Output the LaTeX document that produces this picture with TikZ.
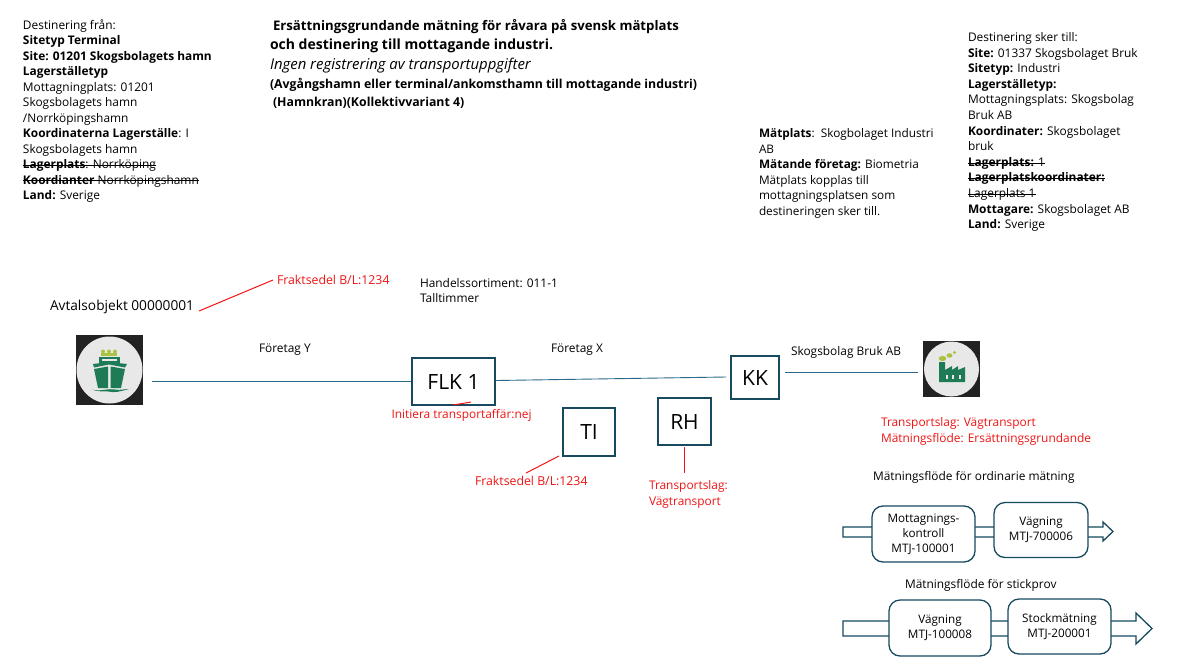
\documentclass[tikz,border=0pt]{standalone}
\usepackage{fontspec}
\setmainfont{Open Sans}
\usetikzlibrary{positioning,calc}
\definecolor{teal1}{HTML}{2A6A88}
\definecolor{boxc}{HTML}{17495F}
\definecolor{redt}{HTML}{F01414}
\definecolor{shipg}{HTML}{1E7B55}
\definecolor{limeg}{HTML}{A9C23F}
\definecolor{icbg}{HTML}{222222}
\definecolor{iccirc}{HTML}{E8E8E8}
\newsavebox{\strkbox}
\newcommand{\strk}[1]{\sbox{\strkbox}{#1}\leavevmode\rlap{\usebox{\strkbox}}\rule[0.27em]{\wd\strkbox}{0.55pt}}
\tikzset{
  x=1pt,y=-1pt,
  txt/.style={anchor=north west,inner sep=0pt,outer sep=0pt,align=left,font=\fontsize{11.9}{15.5}\selectfont,text=black},
  redtxt/.style={txt,text=redt},
  lettbox/.style={draw=boxc,line width=1.5pt,fill=white,inner sep=0pt,font=\fontsize{21}{24}\selectfont},
  stepbox/.style={draw=boxc,line width=1.3pt,fill=white,rounded corners=11pt,inner sep=0pt,align=center,font=\fontsize{11.7}{15}\selectfont},
  link/.style={draw=teal1,line width=0.9pt},
  redlink/.style={draw=redt,line width=1pt},
  flowarrow/.style={draw=boxc,line width=1.3pt,fill=white,line join=miter},
}
\begin{document}
\begin{tikzpicture}
\useasboundingbox (0,0) rectangle (1180,664);
\fill[white] (0,0) rectangle (1180,664);

% text blocks
\node[txt] (leftblock) at (23,19.5) {Destinering från:\\
\textbf{Sitetyp Terminal}\\
\textbf{Site: 01201 Skogsbolagets hamn}\\
\textbf{Lagerställetyp}\\
Mottagningplats: 01201\\
Skogsbolagets hamn\\
/Norrköpingshamn\\
\textbf{Koordinaterna Lagerställe}: I\\
Skogsbolagets hamn\\
\strk{\textbf{Lagerplats}: Norrköping}\\
\strk{\textbf{Koordianter} Norrköpingshamn}\\
\textbf{Land:} Sverige};

\node[txt,font=\fontsize{13.2}{18}\selectfont\bfseries] (title1) at (273,19) {Ersättningsgrundande mätning för råvara på svensk mätplats};
\node[txt,font=\fontsize{14}{18}\selectfont\bfseries] (title2) at (270,39) {och destinering till mottagande industri.};
\node[txt,font=\fontsize{14.9}{18}\selectfont\itshape] (sub) at (270,58) {Ingen registrering av transportuppgifter};
\node[txt,font=\fontsize{12.3}{18}\selectfont\bfseries] (sub2) at (270,78) {(Avgångshamn eller terminal/ankomsthamn till mottagande industri)\\\hspace*{3pt}(Hamnkran)(Kollektivvariant 4)};

\node[txt,font=\fontsize{11.8}{15.6}\selectfont] (matplats) at (759,128.5) {\textbf{Mätplats}:\ \ Skogbolaget Industri\\AB\\\textbf{Mätande företag:} Biometria\\Mätplats kopplas till\\mottagningsplatsen som\\destineringen sker till.};

\node[txt,font=\fontsize{11.9}{15.6}\selectfont] (rightblock) at (968,32.5) {Destinering sker till:\\
\textbf{Site:} 01337 Skogsbolaget Bruk\\
\textbf{Sitetyp:} Industri\\
\textbf{Lagerställetyp:}\\
Mottagningsplats: Skogsbolag\\
Bruk AB\\
\textbf{Koordinater:} Skogsbolaget\\
bruk\\
\strk{\textbf{Lagerplats:} 1}\\
\strk{\textbf{Lagerplatskoordinater:}}\\
\strk{Lagerplats 1}\\
\textbf{Mottagare:} Skogsbolaget AB\\
\textbf{Land:} Sverige};

\node[txt,font=\fontsize{13.7}{16}\selectfont] (avtal) at (50,300.5) {Avtalsobjekt 00000001};
\node[redtxt,font=\fontsize{12.3}{15}\selectfont] (frakt1) at (277,275) {Fraktsedel B/L:1234};
\node[txt] (handel) at (420,278) {Handelssortiment: 011-1\\Talltimmer};
\node[txt] (fy) at (259,344) {Företag Y};
\node[txt] (fx) at (551,344) {Företag X};
\node[txt] (fb) at (791,346) {Skogsbolag Bruk AB};

% ship icon
\node[fill=icbg,minimum width=67pt,minimum height=70pt,inner sep=0pt] (ship) at (109.5,370) {};
\fill[iccirc] (ship.center) ellipse[x radius=33pt,y radius=33.5pt];
\fill[limeg] (101,352.5) rectangle (117,355.5);
\foreach \q in {103,109,115}{\fill[limeg] (\q,351.5) circle[radius=2pt];}
\fill[shipg] (99,357) rectangle (120,363);
\fill[iccirc] (102,359) rectangle (117,360.5);
\fill[shipg] (93,364) -- (109,362) -- (127,364) -- (125,367.5) -- (109,364.5) -- (94,367.5) -- cycle;
\fill[shipg] (94,369) -- (108,366.5) -- (108,388) -- (98,388) -- cycle;
\fill[shipg] (110.5,366.5) -- (125,369) -- (121,388) -- (110.5,388) -- cycle;
\fill[shipg] (92,389.5) .. controls (100,392) and (108,388) .. (115,389.5) .. controls (120,390.5) and (125,389) .. (129,389) .. controls (120,391.5) and (115,393) .. (108,391.5) .. controls (102,391) and (98,392) .. (92,389.5) -- cycle;

% factory icon
\node[fill=icbg,minimum width=57pt,minimum height=56pt,inner sep=0pt] (factory) at (951.5,369) {};
\fill[iccirc] (factory.center) circle[radius=27.5pt];
\fill[shipg] (939,362) -- (945,362) -- (945,370) -- (952,366) -- (952,370) -- (958,366) -- (958,370) -- (965,367) -- (965,382) -- (939,382) -- cycle;
\foreach \q in {946,952,959}{\fill[iccirc] (\q,375) rectangle ++(2.2,4);}
\fill[limeg] (942.5,358.5) ellipse[x radius=3.8pt,y radius=2.6pt];
\fill[limeg] (949.5,355.5) ellipse[x radius=3pt,y radius=2.2pt];
\fill[limeg] (954.5,352.5) circle[radius=1.7pt];

% letter boxes
\node[lettbox,minimum width=83pt,minimum height=47pt] (flk) at (453.5,381.5) {FLK 1};
\node[lettbox,minimum width=52pt,minimum height=48pt] (ti) at (589,432) {TI};
\node[lettbox,minimum width=53pt,minimum height=47pt] (rh) at (684.5,421.5) {RH};
\node[lettbox,minimum width=48pt,minimum height=43pt] (kk) at (755,377.5) {KK};

% connectors
\coordinate (shipout) at (152,381);
\coordinate (kkin) at (726,377);
\coordinate (flkout) at (496,380.5);
\coordinate (kkout) at (785,372);
\coordinate (factin) at (918,372);
\draw[link] (shipout) -- (flk.west |- shipout);
\draw[link] (flkout) -- (kkin);
\draw[link] (kkout) -- (factin);

% red labels
\node[redtxt] (init) at (391.5,409) {Initiera transportaffär:nej};
\node[redtxt,font=\fontsize{12.3}{15}\selectfont] (frakt2) at (475,476.5) {Fraktsedel B/L:1234};
\node[redtxt] (rhlab) at (649,480.5) {Transportslag:\\Vägtransport};
\node[redtxt,font=\fontsize{11.9}{15.8}\selectfont] (trlab) at (881,417.5) {Transportslag: Vägtransport\\Mätningsflöde: Ersättningsgrundande};

\coordinate (a1) at (199,311);
\coordinate (a2) at (273,280);
\coordinate (b1) at (453,405);
\coordinate (b2) at (471,402);
\coordinate (c1) at (559,456);
\coordinate (c2) at (526,473);
\coordinate (d1) at (684,447);
\coordinate (d2) at (684,473);
\draw[redlink] (a1) -- (a2);
\draw[redlink] (b1) -- (b2);
\draw[redlink] (c1) -- (c2);
\draw[redlink] (d1) -- (d2);

% measurement flows
\node[txt] (flow1) at (873,471.5) {Mätningsflöde för ordinarie mätning};
\node[txt] (flow2) at (905,579) {Mätningsflöde för stickprov};

\draw[flowarrow] (843,527) -- (1103,527) -- (1103,522) -- (1113,531.5) -- (1103,541) -- (1103,537) -- (843,537) -- cycle;
\draw[flowarrow] (843,621) -- (1136,621) -- (1136,613) -- (1152,628.5) -- (1136,644) -- (1136,636) -- (843,636) -- cycle;

\node[stepbox,minimum width=103pt,minimum height=56pt] (s1) at (923.5,534) {Mottagnings-\\kontroll\\MTJ-100001};
\node[stepbox,minimum width=94pt,minimum height=55pt] (s2) at (1041,530) {Vägning\\MTJ-700006};
\node[stepbox,minimum width=102pt,minimum height=56pt] (s3) at (940,628) {Vägning\\MTJ-100008};
\node[stepbox,minimum width=103pt,minimum height=55pt] (s4) at (1059.5,626.5) {Stockmätning\\MTJ-200001};
\end{tikzpicture}
\end{document}
